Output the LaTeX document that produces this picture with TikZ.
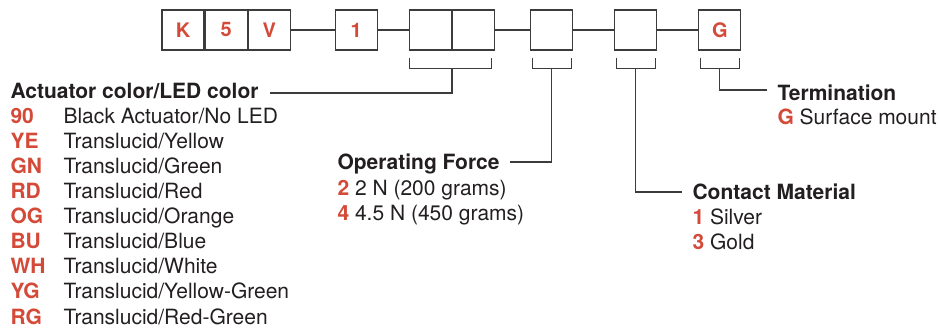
\documentclass[tikz,border=0pt]{standalone}
\usepackage{fontspec}
\setmainfont{TeX Gyre Heros}
\usetikzlibrary{positioning}

\definecolor{codered}{RGB}{212,74,57}
\definecolor{inkblack}{RGB}{35,31,32}
\definecolor{wiregray}{RGB}{60,60,60}
\newcommand{\redcode}[1]{\textcolor{codered}{\textbf{#1}}}

\begin{document}
\begin{tikzpicture}[
    x=1pt, y=-1pt,
    line width=1.1pt,
    font=\fontsize{21}{25}\selectfont,
    text=inkblack,
    digit/.style={draw=wiregray, minimum width=42pt, minimum height=40pt, inner sep=0pt, text=codered, font=\fontsize{20}{24}\selectfont\bfseries},
    wire/.style={draw=wiregray},
    heading/.style={anchor=base west, inner sep=0pt, font=\fontsize{21}{25}\selectfont\bfseries},
    entry/.style={anchor=base west, inner sep=0pt}]
    \useasboundingbox (0,0) rectangle (939,328);

    % part number boxes
    \node[digit] (K) at (183,30) {K};
    \node[digit] (Five)    [right=0pt of K]       {5};
    \node[digit] (V)       [right=0pt of Five]    {V};
    \node[digit] (One)     [right=44pt of V]      {1};
    \node[digit] (BlankA)  [right=31pt of One]    {};
    \node[digit] (BlankB)  [right=0pt of BlankA]  {};
    \node[digit] (Force)   [right=35pt of BlankB] {};
    \node[digit] (Contact) [right=41pt of Force]  {};
    \node[digit] (Term)    [right=41pt of Contact] {G};

    \draw[wire] (V) -- (One);
    \draw[wire] (One) -- (BlankA);
    \draw[wire] (BlankB) -- (Force);
    \draw[wire] (Force) -- (Contact);
    \draw[wire] (Contact) -- (Term);

    % brackets
    \coordinate (Rail) at (0,68);
    \draw[wire] ([xshift=1pt,yshift=-7pt]BlankA.south west) -- ++(0,11) -| ([xshift=-4pt,yshift=-7pt]BlankB.south east);
    \foreach \cell in {Force, Contact, Term}
        \draw[wire] ([xshift=2pt,yshift=-7pt]\cell.south west) -- ++(0,11) -| ([xshift=-2pt,yshift=-7pt]\cell.south east);

    % leaders
    \coordinate (ColorTap)   at (270,93);
    \coordinate (ForceTap)   at (510,162);
    \coordinate (ContactTap) at (682,192);
    \coordinate (TermTap)    at (767,90);
    \draw[wire] (BlankA.south east |- Rail) |- (ColorTap);
    \draw[wire] (Force.south |- Rail) |- (ForceTap);
    \draw[wire] (Contact.south |- Rail) |- (ContactTap);
    \draw[wire] (Term.south |- Rail) |- (TermTap);

    % Actuator color/LED color
    \node[heading] (ColorTitle) at (10,99) {Actuator color/LED color};
    \foreach \key/\desc [count=\i from 0] in {90/{Black Actuator/No LED}, YE/{Translucid/Yellow}, GN/{Translucid/Green}, RD/{Translucid/Red}, OG/{Translucid/Orange}, BU/{Translucid/Blue}, WH/{Translucid/White}, YG/{Translucid/Yellow-Green}, RG/{Translucid/Red-Green}}
    {
        \node[entry] (ColorKey\i)  at (10,124+25*\i) {\redcode{\key}};
        \node[entry] (ColorDesc\i) at (63,124+25*\i) {\desc};
    }

    % Operating Force
    \node[heading] (ForceTitle) at (337,170) {Operating Force};
    \node[entry] (ForceTwo)  at (337,196) {\redcode{2} 2 N (200 grams)};
    \node[entry] (ForceFour) at (337,221) {\redcode{4} 4.5 N (450 grams)};

    % Contact Material
    \node[heading] (ContactTitle) at (692,200) {Contact Material};
    \node[entry] (ContactSilver) at (692,225) {\redcode{1} Silver};
    \node[entry] (ContactGold)   at (692,250) {\redcode{3} Gold};

    % Termination
    \node[heading] (TermTitle) at (777,101) {Termination};
    \node[entry] (TermSurface) at (777,125) {\redcode{G} Surface mount};
\end{tikzpicture}
\end{document}
